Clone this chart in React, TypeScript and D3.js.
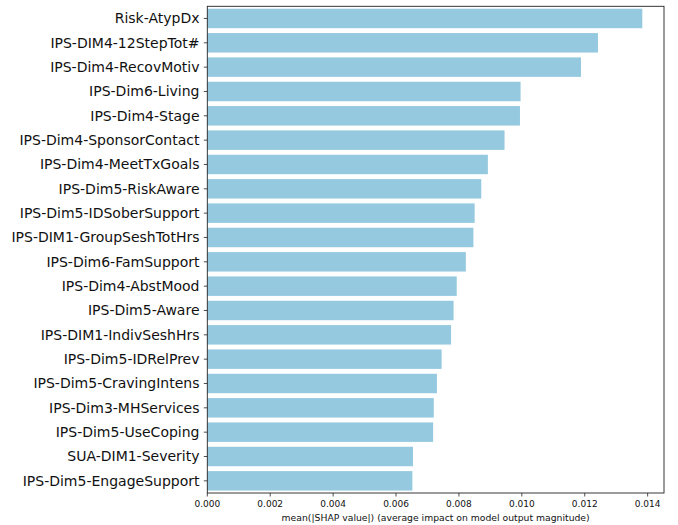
import React from "react";
import * as d3 from "d3";

const features = [
  "Risk-AtypDx",
  "IPS-DIM4-12StepTot#",
  "IPS-Dim4-RecovMotiv",
  "IPS-Dim6-Living",
  "IPS-Dim4-Stage",
  "IPS-Dim4-SponsorContact",
  "IPS-Dim4-MeetTxGoals",
  "IPS-Dim5-RiskAware",
  "IPS-Dim5-IDSoberSupport",
  "IPS-DIM1-GroupSeshTotHrs",
  "IPS-Dim6-FamSupport",
  "IPS-Dim4-AbstMood",
  "IPS-Dim5-Aware",
  "IPS-DIM1-IndivSeshHrs",
  "IPS-Dim5-IDRelPrev",
  "IPS-Dim5-CravingIntens",
  "IPS-Dim3-MHServices",
  "IPS-Dim5-UseCoping",
  "SUA-DIM1-Severity",
  "IPS-Dim5-EngageSupport",
];

const shapValues = [
  0.01383, 0.01242, 0.01188, 0.00996, 0.00994, 0.00945, 0.00892, 0.00871,
  0.0085, 0.00846, 0.00822, 0.00793, 0.00783, 0.00775, 0.00745, 0.0073,
  0.0072, 0.00718, 0.00654, 0.00652,
];

const xTicks = [0, 0.002, 0.004, 0.006, 0.008, 0.01, 0.012, 0.014];
const xLabel = "mean(|SHAP value|) (average impact on model output magnitude)";

const W = 678;
const H = 525;
const left = 207.3;
const right = 664;
const top = 6.3;
const bottom = 493;

export default function App() {
  const x = d3.scaleLinear().domain([0, 0.01452]).range([left, right]);
  const y = d3
    .scaleBand<string>()
    .domain(features)
    .range([top, bottom])
    .paddingInner(0.2)
    .paddingOuter(0.1);
  const fmt = d3.format(".3f");
  const font = "DejaVu Sans, sans-serif";

  return (
    <svg
      width={W}
      height={H}
      style={{ position: "absolute", left: 0, top: 0, background: "#fff" }}
      fontFamily={font}
    >
      {features.map((f, i) => (
        <rect
          key={f}
          x={x(0)}
          y={y(f)!}
          width={x(shapValues[i]) - x(0)}
          height={y.bandwidth()}
          fill="#94C9DF"
        />
      ))}
      {features.map((f) => {
        const cy = y(f)! + y.bandwidth() / 2;
        return (
          <g key={"t" + f}>
            <line x1={left - 3.5} x2={left} y1={cy} y2={cy} stroke="#222" strokeWidth={0.8} />
            <text
              x={left - 7.8}
              y={cy}
              textAnchor="end"
              dominantBaseline="central"
              fontSize={14}
              fill="#111"
            >
              {f}
            </text>
          </g>
        );
      })}
      {xTicks.map((t) => (
        <g key={"x" + t}>
          <line x1={x(t)} x2={x(t)} y1={bottom} y2={bottom + 3.5} stroke="#222" strokeWidth={0.8} />
          <text
            x={x(t)}
            y={bottom + 11}
            textAnchor="middle"
            dominantBaseline="central"
            fontSize={9}
            fill="#111"
          >
            {fmt(t)}
          </text>
        </g>
      ))}
      <text
        x={(left + right) / 2}
        y={517.7}
        textAnchor="middle"
        dominantBaseline="central"
        fontSize={9.25}
        fill="#111"
      >
        {xLabel}
      </text>
      <rect
        x={left}
        y={top}
        width={right - left}
        height={bottom - top}
        fill="none"
        stroke="#222"
        strokeWidth={0.9}
      />
    </svg>
  );
}
